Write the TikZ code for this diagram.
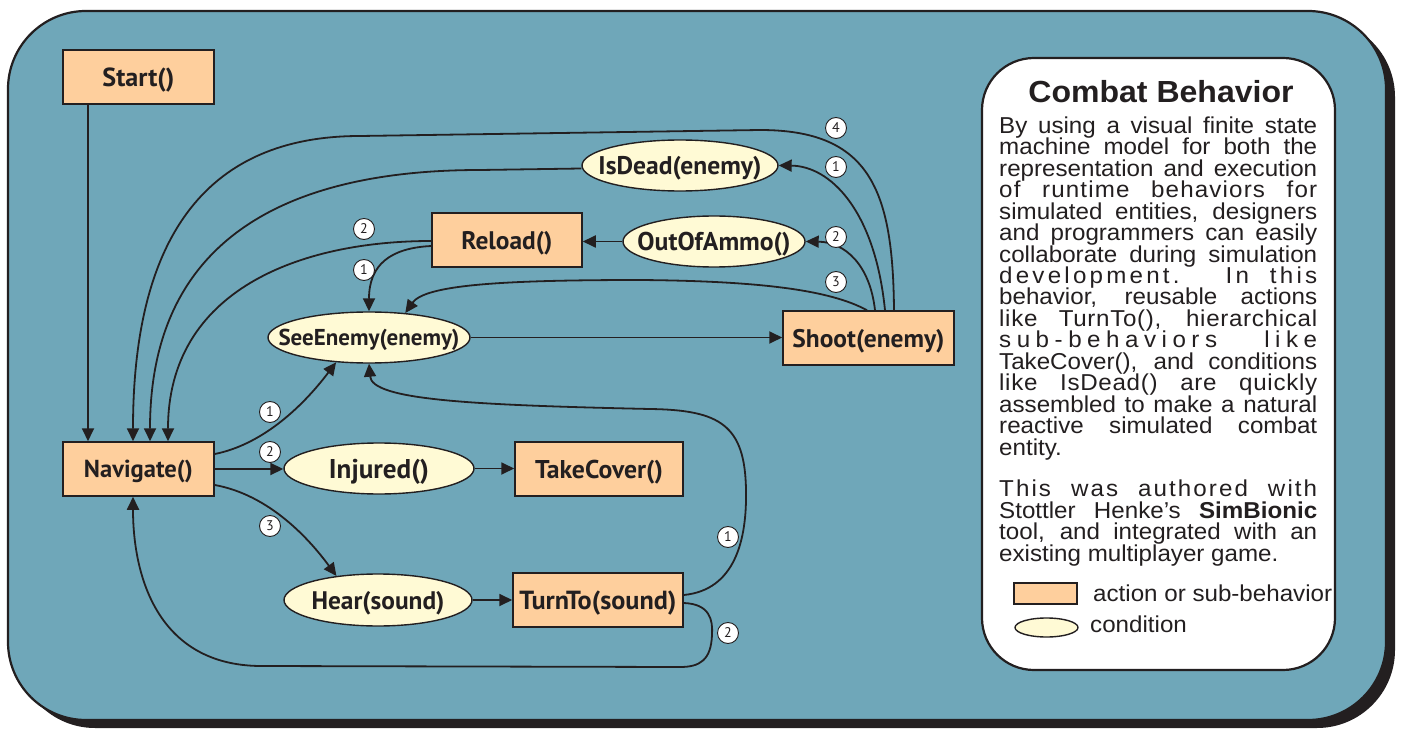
\documentclass[tikz,border=0pt]{standalone}
\usepackage{fontspec}
\setmainfont{Liberation Sans}[FakeStretch=1.05]
\newfontfamily\nodefont{PT Sans}
\usetikzlibrary{shapes.geometric,arrows.meta}
\definecolor{bluebg}{RGB}{111,167,185}
\definecolor{actfill}{RGB}{254,207,157}
\definecolor{condfill}{RGB}{255,250,213}
\definecolor{dark}{RGB}{35,31,32}
\newcommand\lbl[2]{\makebox[0pt]{\raisebox{-0.5\height}[0pt][0pt]{\resizebox{#1}{!}{\nodefont\bfseries #2}}}}
\newcommand\jl[1]{\makebox[318pt][s]{#1}}
\begin{document}
\begin{tikzpicture}[x=1pt,y=-1pt,
  every node/.style={text=dark},
  act/.style={rectangle,draw=dark,fill=actfill,line width=1.5pt,inner sep=0pt},
  cond/.style={ellipse,draw=dark,fill=condfill,line width=1.4pt,inner sep=0pt},
  conn/.style={draw=dark,line width=1.8pt,-{Triangle[length=13pt,width=12pt]}},
  num/.style={circle,draw=dark,fill=white,line width=0.9pt,minimum size=21pt,inner sep=0pt,font=\nodefont\fontsize{14}{14}\selectfont},
  txt/.style={anchor=base west,inner sep=0pt,font=\fontsize{23}{23}\selectfont}]
\useasboundingbox (0,0) rectangle (1401,730);
% frame
\fill[dark,rounded corners=78pt] (17,19) rectangle (1395,728);
\draw[fill=bluebg,draw=dark,line width=2.2pt,rounded corners=78pt] (8,11) rectangle (1386,720);
\draw[fill=white,draw=dark,line width=2.2pt,rounded corners=52pt] (982,58) rectangle (1335,670);
% panel text
\node[anchor=base,inner sep=0pt,font=\bfseries\fontsize{30.5}{30.5}\selectfont] (title) at (1161,103) {Combat Behavior};
\node[txt] (l1) at (999,133.3) {\jl{By using a visual finite state}};
\node[txt] (l2) at (999,154.75) {\jl{machine model for both the}};
\node[txt] (l3) at (999,176.2) {\jl{representation and execution}};
\node[txt] (l4) at (999,197.65) {\jl{\addfontfeature{LetterSpace=5}of runtime behaviors for}};
\node[txt] (l5) at (999,219.1) {\jl{simulated entities, designers}};
\node[txt] (l6) at (999,240.55) {\jl{and programmers can easily}};
\node[txt] (l7) at (999,262.0) {\jl{collaborate during simulation}};
\node[txt] (l8) at (999,283.45) {\jl{\addfontfeature{LetterSpace=14}development. In this}};
\node[txt] (l9) at (999,304.9) {\jl{behavior, reusable actions}};
\node[txt] (l10) at (999,326.35) {\jl{\addfontfeature{LetterSpace=3}like TurnTo(), hierarchical}};
\node[txt] (l11) at (999,347.8) {\jl{\addfontfeature{LetterSpace=24}sub-behaviors like}};
\node[txt] (l12) at (999,369.25) {\jl{TakeCover(), and conditions}};
\node[txt] (l13) at (999,390.7) {\jl{\addfontfeature{LetterSpace=3}like IsDead() are quickly}};
\node[txt] (l14) at (999,412.15) {\jl{assembled to make a natural}};
\node[txt] (l15) at (999,433.6) {\jl{reactive simulated combat}};
\node[txt] (l16) at (999,455.05) {entity.};
\node[txt] (m1) at (999,496.7) {\jl{\addfontfeature{LetterSpace=9}This was authored with}};
\node[txt] (m2) at (999,518.1) {\jl{Stottler Henke’s \textbf{SimBionic}}};
\node[txt] (m3) at (999,539.6) {\jl{tool, and integrated with an}};
\node[txt] (m4) at (999,561.0) {existing multiplayer game.};
% legend
\node[act,minimum width=63pt,minimum height=21pt] (legact) at (1045.5,593.5) {};
\node[cond,minimum width=63pt,minimum height=19pt] (legcond) at (1046.5,627.5) {};
\node[txt] (legacttxt) at (1093,601.7) {action or sub-behavior};
\node[txt] (legcondtxt) at (1090,632.7) {condition};
% states
\node[act,minimum width=151pt,minimum height=54pt] (start) at (138.5,77) {\lbl{72pt}{Start()}};
\node[act,minimum width=151pt,minimum height=54pt] (nav) at (138.5,469) {\lbl{109pt}{Navigate()}};
\node[act,minimum width=150pt,minimum height=54pt] (reload) at (507,240) {\lbl{91pt}{Reload()}};
\node[cond,minimum width=182pt,minimum height=51pt] (oam) at (714,241.5) {\lbl{153pt}{OutOfAmmo()}};
\node[cond,minimum width=196pt,minimum height=51pt] (isdead) at (680,165.5) {\lbl{163pt}{IsDead(enemy)}};
\node[act,minimum width=171pt,minimum height=54pt] (shoot) at (868.5,338) {\lbl{152pt}{Shoot(enemy)}};
\node[cond,minimum width=202pt,minimum height=51pt] (see) at (369,337.5) {\lbl{181pt}{SeeEnemy(enemy)}};
\node[cond,minimum width=190pt,minimum height=51pt] (injured) at (379,468.5) {\lbl{100pt}{Injured()}};
\node[act,minimum width=168pt,minimum height=54pt] (cover) at (599,469) {\lbl{128pt}{TakeCover()}};
\node[cond,minimum width=188pt,minimum height=52pt] (hear) at (378,600) {\lbl{133pt}{Hear(sound)}};
\node[act,minimum width=170pt,minimum height=54pt] (turnto) at (598,600) {\lbl{157pt}{TurnTo(sound)}};
% connectors
\draw[conn] ([xshift=-50.5pt]start.south) -- ([xshift=-50.5pt]nav.north);
\draw[conn] ([xshift=25.5pt]shoot.north) .. controls (893,190) and (870,130) .. (760,130) -- (360,136) .. controls (220,136) and (133,220) .. ([xshift=-5.5pt]nav.north);
\draw[conn] ([yshift=-3pt]isdead.west) -- (480,170) .. controls (300,170) and (150,230) .. ([xshift=11.5pt]nav.north);
\draw[conn] ([yshift=-1pt]reload.west) .. controls (300,241) and (168,290) .. ([xshift=29.5pt]nav.north);
\draw[conn] ([yshift=-6pt]reload.west) .. controls (390,248) and (369,265) .. (see.north);
\draw[conn] ([xshift=-1.5pt]shoot.north) .. controls (830,290) and (760,281) .. (640,280) .. controls (500,280) and (425,285) .. (see.34);
\draw[conn] ([xshift=16.5pt]shoot.north) .. controls (875,210) and (830,166) .. (isdead.east);
\draw[conn] ([xshift=6.5pt]shoot.north) .. controls (870,265) and (845,242) .. (oam.east);
\draw[conn] (oam.west) -- (oam.west -| reload.east);
\draw[conn] (see.east) -- (see.east -| shoot.west);
\draw[conn] ([yshift=15pt]nav.east) .. controls (260,445) and (300,410) .. (see.217);
\draw[conn] (nav.east) -- (nav.east -| injured.west);
\draw[conn] ([yshift=-16pt]nav.east) .. controls (270,495) and (310,540) .. (hear.150);
\draw[conn] (injured.east) -- (injured.east -| cover.west);
\draw[conn] (hear.east) -- (hear.east -| turnto.west);
\draw[conn] ([yshift=5pt]turnto.east) .. controls (735,590) and (747,540) .. (746,490) .. controls (745,425) and (720,410) .. (650,409) .. controls (470,405) and (372,400) .. (see.south);
\draw[conn] ([yshift=-3pt]turnto.east) .. controls (710,604) and (713,620) .. (712,635) .. controls (711,660) and (700,667) .. (680,667) -- (260,666) .. controls (160,665) and (133,580) .. ([xshift=-5.5pt]nav.south);
% numbers
\node[num] (n4) at (836,128) {4};
\node[num] (n1a) at (836,167) {1};
\node[num] (n2a) at (836,237) {2};
\node[num] (n3a) at (836,282) {3};
\node[num] (n2b) at (364,229) {2};
\node[num] (n1b) at (364,270) {1};
\node[num] (n1c) at (270,412) {1};
\node[num] (n2c) at (270,452) {2};
\node[num] (n3c) at (270,526) {3};
\node[num] (n1d) at (728,537) {1};
\node[num] (n2d) at (728,633) {2};
\end{tikzpicture}
\end{document}
